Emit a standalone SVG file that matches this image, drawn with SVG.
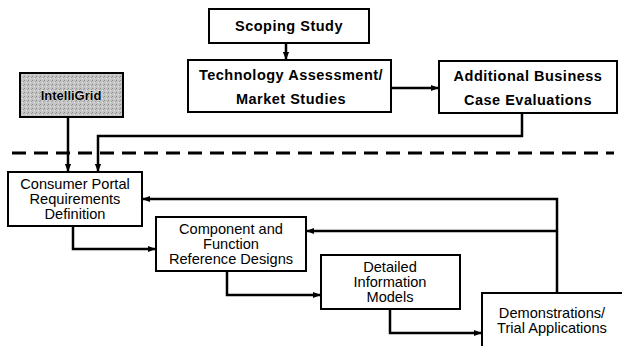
<svg xmlns="http://www.w3.org/2000/svg" width="622" height="346" viewBox="0 0 622 346">
  <defs>
    <marker id="arrow" viewBox="0 0 10 10" refX="9" refY="5" markerWidth="3.2" markerHeight="3.2" orient="auto" markerUnits="strokeWidth">
      <path d="M0,1 L10,5 L0,9 Z" fill="#000"/>
    </marker>
    <pattern id="stipple" width="4" height="4" patternUnits="userSpaceOnUse">
      <rect width="4" height="4" fill="#c4c4c4"/>
      <rect x="0" y="0" width="1" height="1" fill="#8a8a8a"/>
      <rect x="2" y="2" width="1" height="1" fill="#e6e6e6"/>
      <rect x="3" y="1" width="1" height="1" fill="#9a9a9a"/>
    </pattern>
  </defs>
  <style>
    .box { fill: #fff; stroke: #000; stroke-width: 2; }
    .bold { font-family: "Liberation Sans", Arial, sans-serif; font-weight: bold; font-size: 14.5px; letter-spacing: 0.5px; fill: #000; text-anchor: middle; }
    .reg { font-family: "Liberation Sans", Arial, sans-serif; font-size: 14.6px; fill: #000; text-anchor: middle; }
    .conn { fill: none; stroke: #000; stroke-width: 2.5; }
    .dash { fill: none; stroke: #000; stroke-width: 3; stroke-dasharray: 14 8; }
  </style>
  <rect width="622" height="346" fill="#fff"/>

  <!-- boundary line -->
  <line class="dash" x1="12" y1="153" x2="614" y2="153"/>

  <g id="connectors">
    <path class="conn" d="M286,43 V59" marker-end="url(#arrow)"/>
    <path class="conn" d="M391,88 H438" marker-end="url(#arrow)"/>
    <path class="conn" d="M522,113 V136 H98 V171" marker-end="url(#arrow)"/>
    <path class="conn" d="M68,117 V171" marker-end="url(#arrow)"/>
    <path class="conn" d="M73,226 V249 H155" marker-end="url(#arrow)"/>
    <path class="conn" d="M227,271 V295 H320" marker-end="url(#arrow)"/>
    <path class="conn" d="M390,309 V333 H481" marker-end="url(#arrow)"/>
    <path class="conn" d="M557,292 V199 H143" marker-end="url(#arrow)"/>
    <path class="conn" d="M557,231 H307" marker-end="url(#arrow)"/>
  </g>

  <g id="scoping">
    <rect class="box" x="209" y="9" width="160" height="34"/>
    <text class="bold" x="289" y="31">Scoping Study</text>
  </g>

  <g id="technology">
    <rect class="box" x="188" y="60" width="203" height="52"/>
    <text class="bold" x="291" y="80">Technology Assessment/</text>
    <text class="bold" x="291" y="104">Market Studies</text>
  </g>

  <g id="business">
    <rect class="box" x="439" y="61" width="178" height="52"/>
    <text class="bold" x="528" y="81">Additional Business</text>
    <text class="bold" x="528" y="105">Case Evaluations</text>
  </g>

  <g id="intelligrid">
    <rect x="20" y="73" width="103" height="44" fill="url(#stipple)" stroke="#000" stroke-width="2"/>
    <text class="bold" x="71" y="100" style="font-size:13px;letter-spacing:0;stroke:#fff;stroke-width:0.6px;paint-order:stroke">IntelliGrid</text>
  </g>

  <g id="consumer">
    <rect class="box" x="8" y="172" width="134" height="54"/>
    <text class="reg" x="75" y="189">Consumer Portal</text>
    <text class="reg" x="75" y="204">Requirements</text>
    <text class="reg" x="75" y="219">Definition</text>
  </g>

  <g id="component">
    <rect class="box" x="156" y="217" width="150" height="54"/>
    <text class="reg" x="231" y="234">Component and</text>
    <text class="reg" x="231" y="249">Function</text>
    <text class="reg" x="231" y="264">Reference Designs</text>
  </g>

  <g id="detailed">
    <rect class="box" x="321" y="255" width="139" height="54"/>
    <text class="reg" x="390" y="272">Detailed</text>
    <text class="reg" x="390" y="287">Information</text>
    <text class="reg" x="390" y="302">Models</text>
  </g>

  <g id="demonstrations">
    <rect class="box" x="482" y="293" width="150" height="60"/>
    <text class="reg" x="552" y="318">Demonstrations/</text>
    <text class="reg" x="552" y="333">Trial Applications</text>
  </g>
</svg>
